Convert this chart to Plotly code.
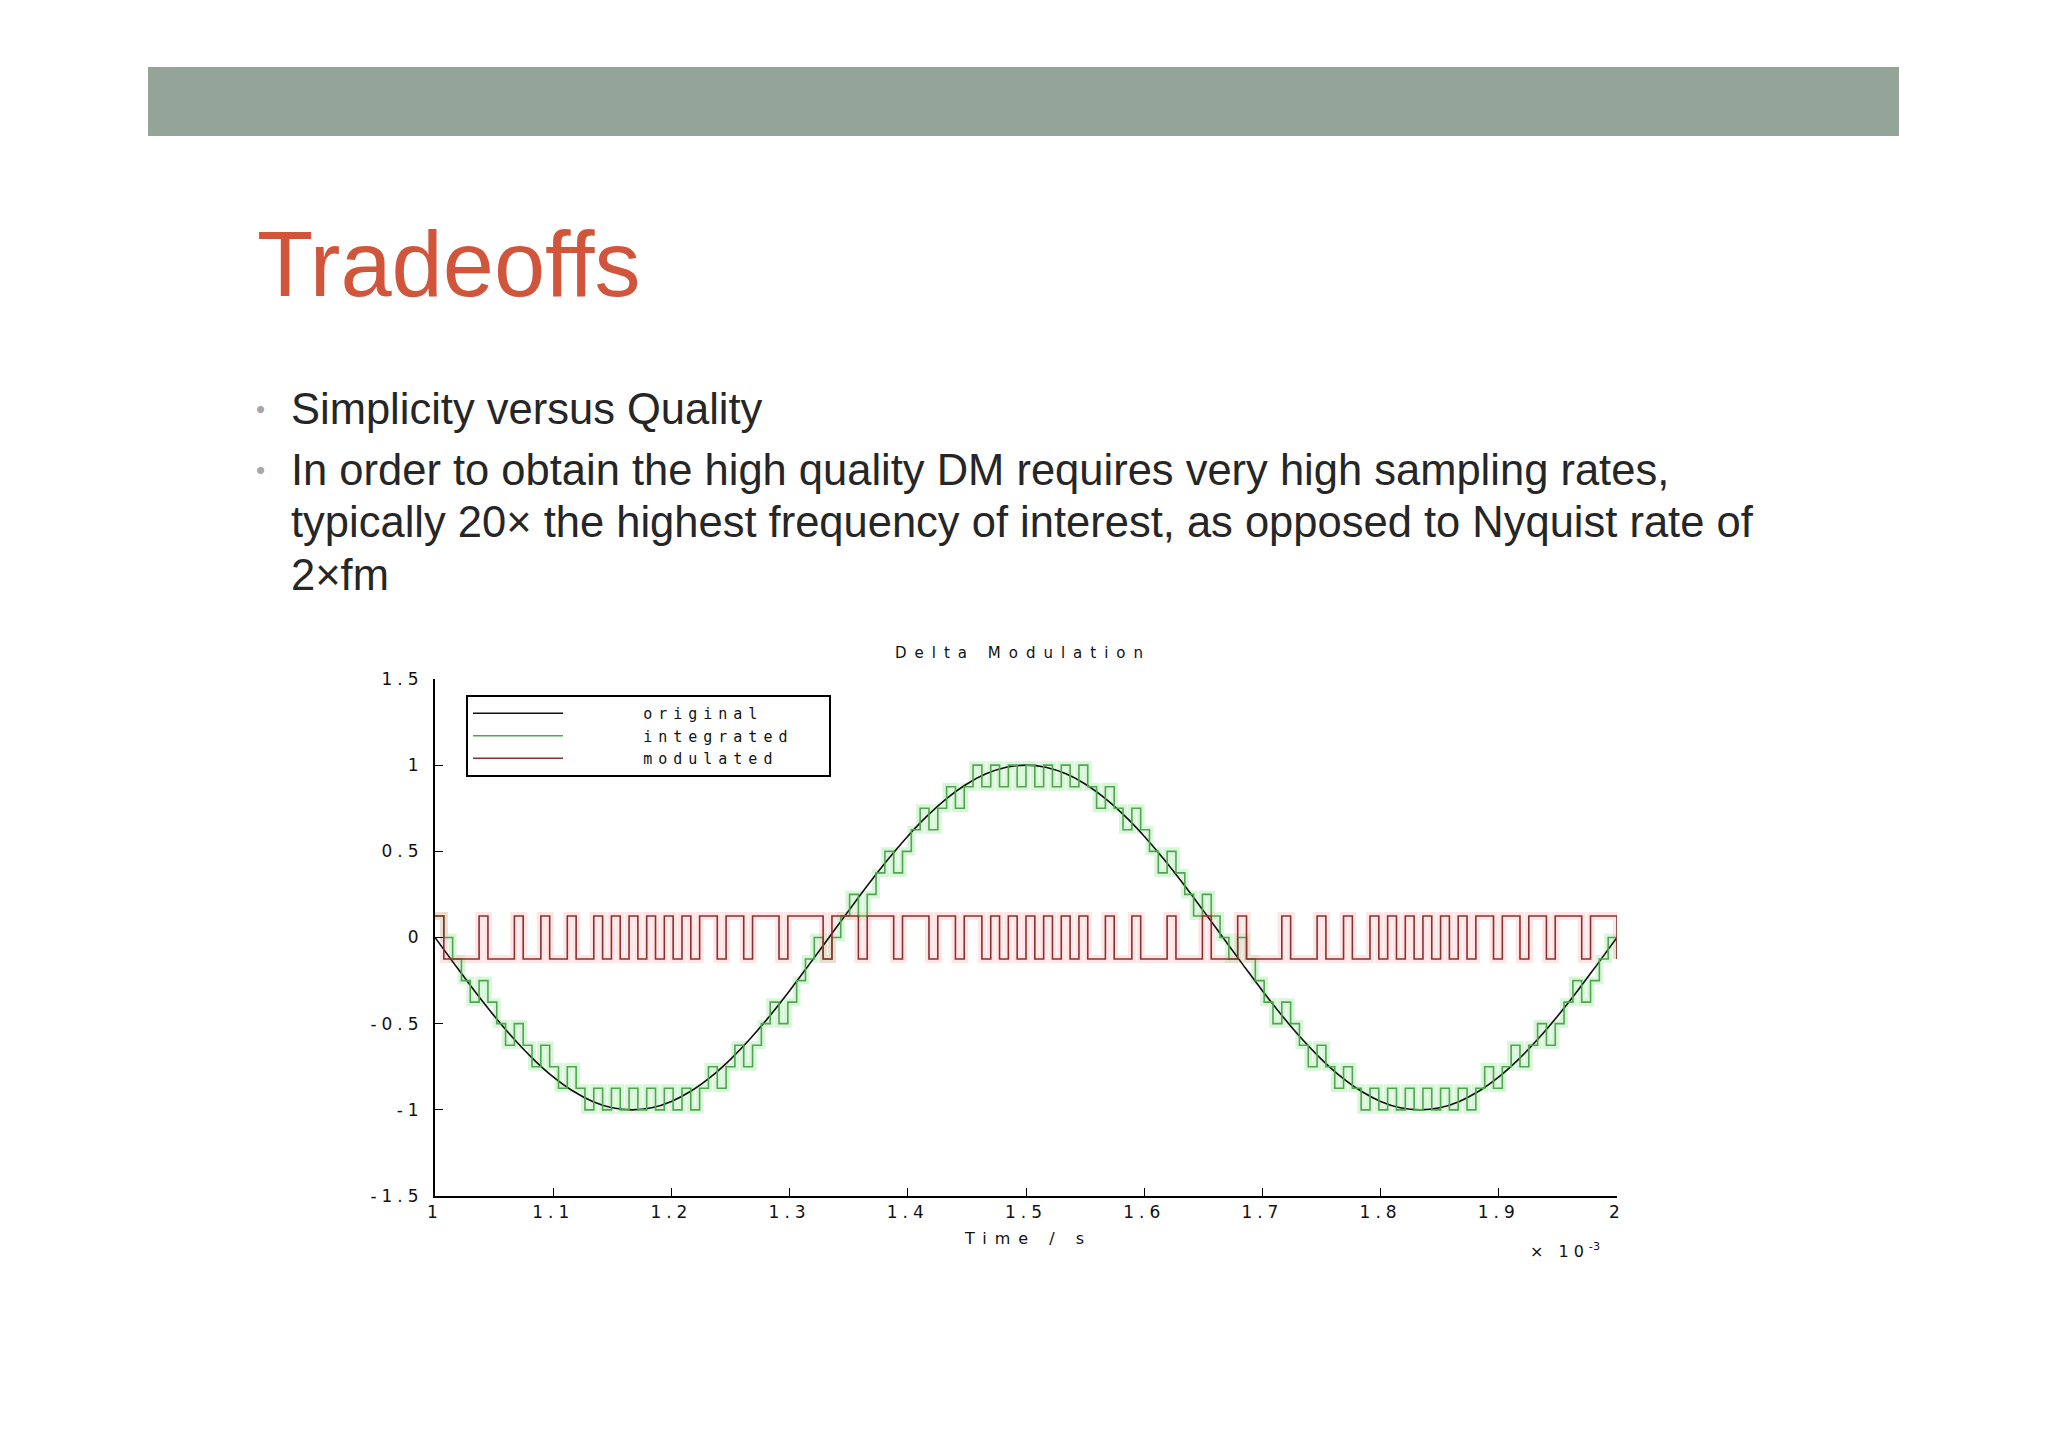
import numpy as np
import plotly.graph_objects as go

# ---------------- data ----------------
t_start_ms, t_end_ms = 1.0, 2.0
H, Lo = 0.125, -0.125

# original signal, read every 1/60 ms
original = [
    0.0, -0.156, -0.309, -0.454, -0.588, -0.707, -0.809, -0.891, -0.951, -0.988,
    -1.0, -0.988, -0.951, -0.891, -0.809, -0.707, -0.588, -0.454, -0.309, -0.156,
    0.0, 0.156, 0.309, 0.454, 0.588, 0.707, 0.809, 0.891, 0.951, 0.988,
    1.0, 0.988, 0.951, 0.891, 0.809, 0.707, 0.588, 0.454, 0.309, 0.156,
    0.0, -0.156, -0.309, -0.454, -0.588, -0.707, -0.809, -0.891, -0.951, -0.988,
    -1.0, -0.988, -0.951, -0.891, -0.809, -0.707, -0.588, -0.454, -0.309, -0.156,
    0.0,
]

# integrated (staircase) signal, one value per sample
integrated = [
    0.125, 0.0, -0.125, -0.25, -0.375, -0.25, -0.375, -0.5, -0.625, -0.5,
    -0.625, -0.75, -0.625, -0.75, -0.875, -0.75, -0.875, -1.0, -0.875, -1.0,
    -0.875, -1.0, -0.875, -1.0, -0.875, -1.0, -0.875, -1.0, -0.875, -1.0,
    -0.875, -0.75, -0.875, -0.75, -0.625, -0.75, -0.625, -0.5, -0.375, -0.5,
    -0.375, -0.25, -0.125, 0.0, -0.125, 0.0, 0.125, 0.25, 0.125, 0.25,
    0.375, 0.5, 0.375, 0.5, 0.625, 0.75, 0.625, 0.75, 0.875, 0.75,
    0.875, 1.0, 0.875, 1.0, 0.875, 1.0, 0.875, 1.0, 0.875, 1.0,
    0.875, 1.0, 0.875, 1.0, 0.875, 0.75, 0.875, 0.75, 0.625, 0.75,
    0.625, 0.5, 0.375, 0.5, 0.375, 0.25, 0.125, 0.25, 0.125, 0.0,
    -0.125, 0.0, -0.125, -0.25, -0.375, -0.5, -0.375, -0.5, -0.625, -0.75,
    -0.625, -0.75, -0.875, -0.75, -0.875, -1.0, -0.875, -1.0, -0.875, -1.0,
    -0.875, -1.0, -0.875, -1.0, -0.875, -1.0, -0.875, -1.0, -0.875, -0.75,
    -0.875, -0.75, -0.625, -0.75, -0.625, -0.5, -0.625, -0.5, -0.375, -0.25,
    -0.375, -0.25, -0.125, 0.0, -0.125,
]

# modulated (delta bit stream), one value per sample
modulated = [
    H, Lo, Lo, Lo, Lo, H, Lo, Lo, Lo, H,
    Lo, Lo, H, Lo, Lo, H, Lo, Lo, H, Lo,
    H, Lo, H, Lo, H, Lo, H, Lo, H, Lo,
    H, H, Lo, H, H, Lo, H, H, H, Lo,
    H, H, H, H, Lo, H, H, H, Lo, H,
    H, H, Lo, H, H, H, Lo, H, H, Lo,
    H, H, Lo, H, Lo, H, Lo, H, Lo, H,
    Lo, H, Lo, H, Lo, Lo, H, Lo, Lo, H,
    Lo, Lo, Lo, H, Lo, Lo, Lo, H, Lo, Lo,
    Lo, H, Lo, Lo, Lo, Lo, H, Lo, Lo, Lo,
    H, Lo, Lo, H, Lo, Lo, H, Lo, H, Lo,
    H, Lo, H, Lo, H, Lo, H, Lo, H, H,
    Lo, H, H, Lo, H, H, Lo, H, H, H,
    Lo, H, H, H, Lo,
]

series_names = ["original", "integrated", "modulated"]
x_ticks = [1.0, 1.1, 1.2, 1.3, 1.4, 1.5, 1.6, 1.7, 1.8, 1.9, 2.0]
x_tick_labels = ["1", "1.1", "1.2", "1.3", "1.4", "1.5", "1.6", "1.7", "1.8", "1.9", "2"]
y_ticks = [-1.5, -1, -0.5, 0, 0.5, 1, 1.5]
y_tick_labels = ["-1.5", "-1", "-0.5", "0", "0.5", "1", "1.5"]

# sample instants (uniform grid over the displayed 1 ms window)
t_samples = np.linspace(t_start_ms, t_end_ms, len(integrated))
t_orig = np.linspace(t_start_ms, t_end_ms, len(original))

# ---------------- layout geometry ----------------
FW, FH = 2040, 1439
OFF = 8
L, R, T, B = 435, 1617, 679, 1196

def xp(px):
    return (px - L) / (R - L)

def yp(py):
    return (B - py) / (B - T)

sp = lambda txt, ls: f'<span style="letter-spacing:{ls}px">{txt}</span>'
NB = "\u00a0" * 5
NT = "\u00a0" * 2

fig = go.Figure()
fig.add_trace(go.Scatter(x=t_samples, y=integrated, mode="lines",
                         line=dict(color="rgba(150,230,150,0.35)", width=8, shape="hv"),
                         showlegend=False, hoverinfo="skip"))
fig.add_trace(go.Scatter(x=t_samples, y=modulated, mode="lines",
                         line=dict(color="rgba(255,190,190,0.4)", width=8, shape="hv"),
                         showlegend=False, hoverinfo="skip"))
fig.add_trace(go.Scatter(x=t_orig, y=original, mode="lines", name=sp(NB + series_names[0] + NT, 6),
                         line=dict(color="#111111", width=1.6, shape="spline", smoothing=1.0)))
fig.add_trace(go.Scatter(x=t_samples, y=integrated, mode="lines", name=sp(NB + series_names[1] + NT, 6),
                         line=dict(color="#4fa64f", width=1.6, shape="hv")))
fig.add_trace(go.Scatter(x=t_samples, y=modulated, mode="lines", name=sp(NB + series_names[2] + NT, 6),
                         line=dict(color="#8c2f2f", width=1.6, shape="hv")))

fig.update_layout(
    width=FW, height=FH,
    margin=dict(l=L - OFF, r=FW - (R - OFF), t=T - OFF, b=FH - (B - OFF)),
    paper_bgcolor="white", plot_bgcolor="white",
    font=dict(family="Liberation Sans, Arial", color="#222"),
    showlegend=True,
    legend=dict(x=xp(466), y=yp(695), xanchor="left", yanchor="top", bordercolor="black", borderwidth=2,
                bgcolor="white", font=dict(size=15, family="DejaVu Sans Mono", color="#111"),
                itemwidth=90),
)
fig.update_xaxes(range=[t_start_ms, t_end_ms], showgrid=False, zeroline=False, showline=True,
                 linecolor="black", linewidth=2, ticks="inside", ticklen=8, tickcolor="black",
                 tickvals=x_ticks, ticktext=[sp(v, 5) for v in x_tick_labels],
                 tickfont=dict(size=17, family="DejaVu Sans", color="#111"))
fig.update_yaxes(range=[-1.5, 1.5], showgrid=False, zeroline=False, showline=True,
                 linecolor="black", linewidth=2, ticks="inside", ticklen=8, tickcolor="black",
                 tickvals=y_ticks, ticktext=[sp(v, 5) for v in y_tick_labels],
                 tickfont=dict(size=17, family="DejaVu Sans", color="#111"), ticklabelstandoff=6)

anns = []
anns.append(dict(x=xp(255), y=yp(264), text="Tradeoffs", xanchor="left", font=dict(size=92, color="#d0553b")))
anns.append(dict(x=xp(1023), y=yp(653), text=sp("Delta Modulation", 8),
                 font=dict(size=15, family="DejaVu Sans", color="#111")))
anns.append(dict(x=xp(1028), y=yp(1238), text=sp("Time / s", 8),
                 font=dict(size=16, family="DejaVu Sans", color="#111")))
anns.append(dict(x=xp(1528), y=yp(1250), text=sp("× 10", 5) + "<sup>-3</sup>", xanchor="left",
                 font=dict(size=16, family="DejaVu Sans", color="#111")))
bullets = [(409, "Simplicity versus Quality", True),
           (470, "In order to obtain the high quality DM requires very high sampling rates,", True),
           (522, "typically 20× the highest frequency of interest, as opposed to Nyquist rate of", False),
           (575, "2×fm", False)]
for y, txt, b in bullets:
    anns.append(dict(x=xp(289), y=yp(y), text=txt, xanchor="left", font=dict(size=43.5, color="#262626")))
    if b:
        anns.append(dict(x=xp(254), y=yp(y), text="•", font=dict(size=26, color="#a6a6a6")))
for a in anns:
    a.setdefault("xref", "paper")
    a.setdefault("yref", "paper")
    a.setdefault("showarrow", False)
    a.setdefault("yanchor", "middle")
fig.update_layout(annotations=anns)
fig.add_shape(type="rect", xref="paper", yref="paper", x0=xp(148), x1=xp(1899), y0=yp(136), y1=yp(67),
              fillcolor="#94a498", line=dict(width=0), layer="below")
fig.write_html("out.html")
